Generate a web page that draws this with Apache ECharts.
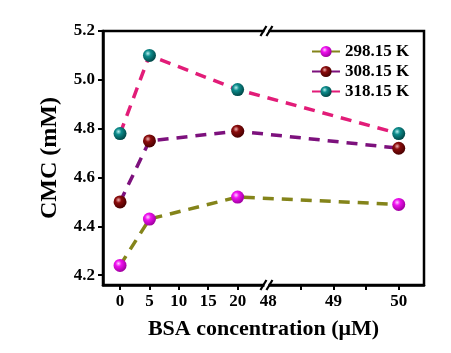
<!DOCTYPE html>
<html>
<head>
<meta charset="utf-8">
<script src="https://cdn.jsdelivr.net/npm/echarts@6/dist/echarts.min.js"></script>
<style>
  html, body { margin: 0; padding: 0; background: #fff; }
  #main { width: 451px; height: 353px; }
</style>
</head>
<body>
<div id="main"></div>
<script>
// data
var concentrations = [0, 5, 20, 50];
var cmc298 = [4.24, 4.43, 4.52, 4.49];
var cmc308 = [4.50, 4.75, 4.79, 4.72];
var cmc318 = [4.78, 5.10, 4.96, 4.78];
var seriesNames = ['298.15 K', '308.15 K', '318.15 K'];
var xTickLabels = [0, 5, 10, 15, 20, 48, 49, 50];
var xMinorTicks = [48.5, 49.5];
var yTickLabels = [4.2, 4.4, 4.6, 4.8, 5.0, 5.2];

// broken x axis: 0..24.6 kept as is, 48..50 stretched after the break
var leftEnd = 24.6;
var rightStart = 48;
var rightU0 = 25.2;
var rightScale = 11.1;
var breakU = 24.9;

function toU(x) {
  return x <= leftEnd ? x : rightU0 + (x - rightStart) * rightScale;
}
function fromU(u) {
  return u <= leftEnd ? u : rightStart + (u - rightU0) / rightScale;
}
function pairs(ys) {
  return concentrations.map(function (x, i) { return [toU(x), ys[i]]; });
}
function ball(base, light, dark) {
  return {
    type: 'radial', x: 0.38, y: 0.35, r: 0.65,
    colorStops: [
      { offset: 0, color: light },
      { offset: 0.35, color: base },
      { offset: 1, color: dark }
    ]
  };
}

var font = 'Liberation Serif, Times New Roman, serif';
var lineColors = ['#84841a', '#7d117d', '#e21c78'];
var ballColors = [
  ball('#f010f0', '#ffd0ff', '#a000a0'),
  ball('#8a0c0c', '#f0b0b0', '#4a0000'),
  ball('#0d8c8c', '#b8f0f0', '#004848')
];
var yData = [cmc298, cmc308, cmc318];

var chartDom = document.getElementById('main');
var myChart = echarts.init(chartDom);
var option;

var lineSeries = seriesNames.map(function (name, i) {
  return {
    name: name,
    type: 'line',
    data: pairs(yData[i]),
    symbol: 'circle',
    symbolSize: 13,
    z: 3 + i,
    lineStyle: { color: lineColors[i], width: 3.5, type: [11, 8] },
    itemStyle: { color: ballColors[i], borderWidth: 0 }
  };
});

option = {
  animation: false,
  grid: {
    left: 103, right: 27, top: 31, bottom: 68,
    show: true, borderColor: '#000', borderWidth: 2.5
  },
  legend: {
    data: seriesNames,
    orient: 'vertical',
    left: 306, top: 38,
    itemWidth: 28, itemHeight: 14, itemGap: 3,
    textStyle: { fontFamily: font, fontWeight: 'bold', fontSize: 17, color: '#000' }
  },
  xAxis: {
    type: 'value',
    min: -2.9, max: 51.7,
    name: 'BSA concentration (\u03bcM)',
    nameLocation: 'middle',
    nameGap: 33,
    nameTextStyle: { fontFamily: font, fontWeight: 'bold', fontSize: 22, color: '#000' },
    axisLine: { onZero: false, lineStyle: { color: '#000', width: 2.5 } },
    axisTick: {
      length: 5, lineStyle: { color: '#000', width: 2 },
      customValues: xTickLabels.filter(function (v) { return v !== 48; }).concat(xMinorTicks).map(toU)
    },
    axisLabel: {
      margin: 8,
      customValues: xTickLabels.map(toU),
      formatter: function (u) { return String(Math.round(fromU(u))); },
      fontFamily: font, fontWeight: 'bold', fontSize: 17, color: '#000'
    },
    splitLine: { show: false }
  },
  yAxis: {
    type: 'value',
    min: 4.16, max: 5.2,
    name: 'CMC (mM)',
    nameLocation: 'middle',
    nameGap: 41,
    nameTextStyle: { fontFamily: font, fontWeight: 'bold', fontSize: 24, color: '#000' },
    axisLine: { onZero: false, lineStyle: { color: '#000', width: 2.5 } },
    axisTick: { length: 5, lineStyle: { color: '#000', width: 2 }, customValues: yTickLabels },
    axisLabel: {
      margin: 8,
      customValues: yTickLabels,
      formatter: function (v) { return v.toFixed(1); },
      fontFamily: font, fontWeight: 'bold', fontSize: 17, color: '#000'
    },
    splitLine: { show: false }
  },
  series: lineSeries.concat([{
    // the // marks on the frame at the axis break
    type: 'custom',
    data: [[breakU, 4.16]],
    z: 10,
    silent: true,
    renderItem: function (params, api) {
      var cs = params.coordSys;
      var px = api.coord([api.value(0), api.value(1)])[0];
      var kids = [];
      [cs.y, cs.y + cs.height].forEach(function (py) {
        kids.push({
          type: 'rect',
          shape: { x: px - 2, y: py - 3, width: 4, height: 6 },
          style: { fill: '#fff' }
        });
        [-3, 3].forEach(function (dx) {
          kids.push({
            type: 'line',
            shape: { x1: px + dx - 3, y1: py + 5, x2: px + dx + 3, y2: py - 5 },
            style: { stroke: '#000', lineWidth: 2.2 }
          });
        });
      });
      return { type: 'group', children: kids };
    }
  }])
};

option && myChart.setOption(option);
</script>
</body>
</html>
